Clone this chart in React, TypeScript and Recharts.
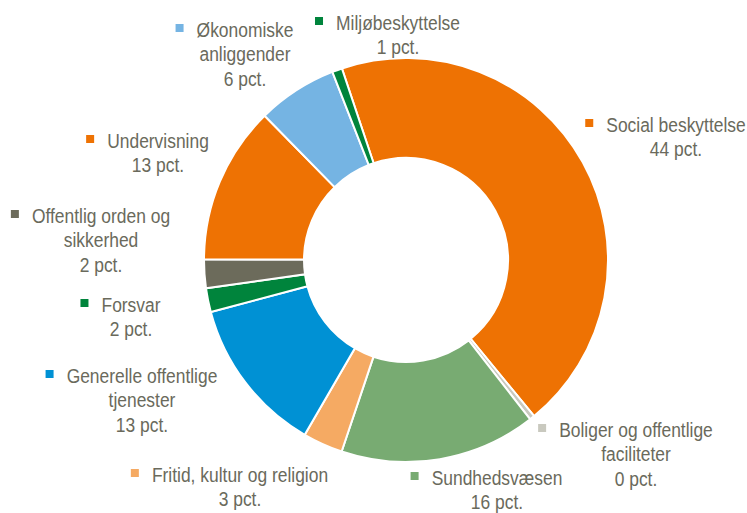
import React from 'react';
import { PieChart, Pie, Cell } from 'recharts';

const CATEGORIES = [
  'Social beskyttelse',
  'Boliger og offentlige faciliteter',
  'Sundhedsvæsen',
  'Fritid, kultur og religion',
  'Generelle offentlige tjenester',
  'Forsvar',
  'Offentlig orden og sikkerhed',
  'Undervisning',
  'Økonomiske anliggender',
  'Miljøbeskyttelse',
];

const SHARES = [44.2, 0.4, 15.7, 3.2, 12.5, 1.9, 2.3, 12.6, 6.4, 0.8];

const LABEL_LINES = [
  ['Social beskyttelse'],
  ['Boliger og offentlige', 'faciliteter'],
  ['Sundhedsvæsen'],
  ['Fritid, kultur og religion'],
  ['Generelle offentlige', 'tjenester'],
  ['Forsvar'],
  ['Offentlig orden og', 'sikkerhed'],
  ['Undervisning'],
  ['Økonomiske', 'anliggender'],
  ['Miljøbeskyttelse'],
];

const COLORS = [
  '#EE7203',
  '#C9C9BF',
  '#78AB72',
  '#F5AA63',
  '#0091D4',
  '#00843C',
  '#6C6B5B',
  '#EE7203',
  '#75B4E3',
  '#00843C',
];

// label block anchors: text centre x, first baseline y, relative to pie centre
const LABEL_ANCHORS: [number, number][] = [
  [270, -128],
  [230, 177],
  [91, 225],
  [-166, 222],
  [-264, 123],
  [-275, 52],
  [-305, -37],
  [-248, -112],
  [-161, -223],
  [-8, -230],
];

const W = 747;
const H = 513;
const CX = 406;
const CY = 260;
const FONT = '"Liberation Sans", Arial, sans-serif';
const FONT_SIZE = 21;
const SCALE_X = 0.83;
const LINE_H = 24.5;
const TEXT_COLOR = '#6A6A5C';

const data = CATEGORIES.map((name, i) => ({ name, value: SHARES[i] }));

let ctx: CanvasRenderingContext2D | null = null;
function measure(s: string): number {
  if (!ctx) {
    const c = document.createElement('canvas');
    ctx = c.getContext('2d');
  }
  if (!ctx) return s.length * 8;
  ctx.font = `${FONT_SIZE}px ${FONT}`;
  return ctx.measureText(s).width * SCALE_X;
}

const renderLabel = (props: any) => {
  const index: number = props.index;
  const cx = typeof props.cx === 'number' ? props.cx : CX;
  const cy = typeof props.cy === 'number' ? props.cy : CY;
  const [dx, dy] = LABEL_ANCHORS[index];
  const tx = cx + dx;
  const ty = cy + dy;
  const lines = [...LABEL_LINES[index], `${Math.round(SHARES[index])} pct.`];
  const w = measure(lines[0]);
  return (
    <g key={`lbl-${index}`}>
      <rect x={tx - w / 2 - 13 - 8} y={ty - 13} width={8} height={8} fill={COLORS[index]} />
      <g transform={`translate(${tx} ${ty}) scale(${SCALE_X} 1)`}>
        <text textAnchor="middle" fill={TEXT_COLOR} fontSize={FONT_SIZE} fontFamily={FONT}>
          {lines.map((l, i) => (
            <tspan key={i} x={0} y={i * LINE_H}>
              {l}
            </tspan>
          ))}
        </text>
      </g>
    </g>
  );
};

export default function App() {
  return (
    <div style={{ width: W, height: H, background: '#fff' }}>
      <style>{`body{margin:0;background:#fff}`}</style>
      <PieChart width={W} height={H} margin={{ top: 0, right: 0, bottom: 0, left: 0 }}>
        <Pie
          data={data}
          dataKey="value"
          nameKey="name"
          cx={CX}
          cy={CY}
          innerRadius={102}
          outerRadius={202}
          startAngle={108.5}
          endAngle={-251.5}
          stroke="#ffffff"
          strokeWidth={2}
          label={renderLabel}
          labelLine={false}
          isAnimationActive={false}
        >
          {data.map((d, i) => (
            <Cell key={d.name} fill={COLORS[i]} />
          ))}
        </Pie>
      </PieChart>
    </div>
  );
}
